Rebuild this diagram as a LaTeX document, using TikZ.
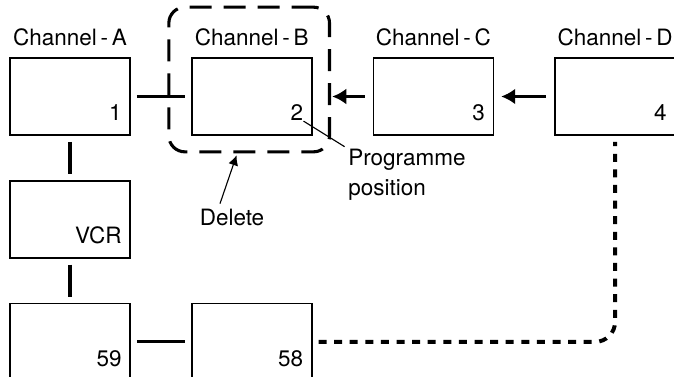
\documentclass[tikz,border=0pt]{standalone}
\usepackage{fontspec}
\setmainfont{TeX Gyre Heros}
\usetikzlibrary{arrows.meta,positioning,fit}

\begin{document}
\begin{tikzpicture}[
  node distance=11mm and 15mm,
  font=\fontsize{16}{21}\selectfont,
  chan/.style={rectangle, draw, line width=1.2pt, minimum width=30mm, minimum height=19.25mm, inner sep=0pt},
  num/.style={anchor=base east, inner sep=0pt},
  chlabel/.style={inner sep=0pt},
  wire/.style={line width=2.2pt, shorten <=1.5mm, shorten >=1.5mm},
  arr/.style={-{Latex[length=3.5mm,width=4mm]}, line width=2.2pt, shorten <=2mm, shorten >=1.75mm},
  lead/.style={line width=0.8pt},
  delframe/.style={draw, rounded corners=4mm, line width=2.2pt, dash pattern=on 5.5mm off 3mm, inner sep=0pt},
  jump/.style={line width=2.8pt, dash pattern=on 2mm off 1.9mm, rounded corners=5mm, shorten <=1.5mm, shorten >=1.5mm}
]
  \useasboundingbox (0,0) rectangle (168.5mm,-94mm);

  % channel row
  \node[chan] (A) at (17.5mm,-24.125mm) {};
  \node[chan, right=of A] (B) {};
  \node[chan, right=of B] (C) {};
  \node[chan, right=of C] (D) {};
  \node[chan, below=of A] (vcr) {};
  \node[chan, below=of vcr] (p59) {};
  \node[chan, right=of p59] (p58) {};

  \node[chlabel, above=2.75mm of A] (labA) {Channel\,-\,A};
  \node[chlabel, above=2.75mm of B] (labB) {Channel\,-\,B};
  \node[chlabel, above=2.75mm of C] (labC) {Channel\,-\,C};
  \node[chlabel, above=2.75mm of D] (labD) {Channel\,-\,D};

  % programme numbers
  \node[num] (numA) at ([shift={(-2.25mm,3.75mm)}]A.south east) {1};
  \node[num] (numB) at ([shift={(-2.25mm,3.75mm)}]B.south east) {2};
  \node[num] (numC) at ([shift={(-2.25mm,3.75mm)}]C.south east) {3};
  \node[num] (numD) at ([shift={(-2.25mm,3.75mm)}]D.south east) {4};
  \node[num] (numvcr) at ([shift={(-2.25mm,3.75mm)}]vcr.south east) {VCR};
  \node[num] (num59) at ([shift={(-2.25mm,3.75mm)}]p59.south east) {59};
  \node[num] (num58) at ([shift={(-2.25mm,3.75mm)}]p58.south east) {58};

  % deleted channel
  \coordinate (fa) at ([shift={(-5.5mm,-4mm)}]B.south west);
  \coordinate (fb) at ([shift={(4.25mm,12.5mm)}]B.north east);
  \node[delframe, fit=(fa)(fb)] (frame) {};

  \node[anchor=base] (del) at (58mm,-56.25mm) {Delete};
  \node[anchor=base west, align=left, inner sep=0pt] (prog) at (87mm,-48.75mm) {Programme\\position};

  \draw[wire] (A) -- (B);
  \draw[wire] (A) -- (vcr);
  \draw[wire] (vcr) -- (p59);
  \draw[wire] (p59) -- (p58);
  \draw[arr] (D) -- (C);
  \draw[arr, shorten >=0.3mm] (C.west) -- (C.west -| frame.east);
  \draw[jump] (p58) -| (D);
  \draw[lead, -{Latex[length=2.5mm,width=2.5mm]}, shorten >=0.5mm] ([xshift=-3mm]del.north) -- ([xshift=-3mm]frame.south);
  \draw[lead, shorten >=1mm] (numB.south east) -- (prog.north west);
\end{tikzpicture}
\end{document}
